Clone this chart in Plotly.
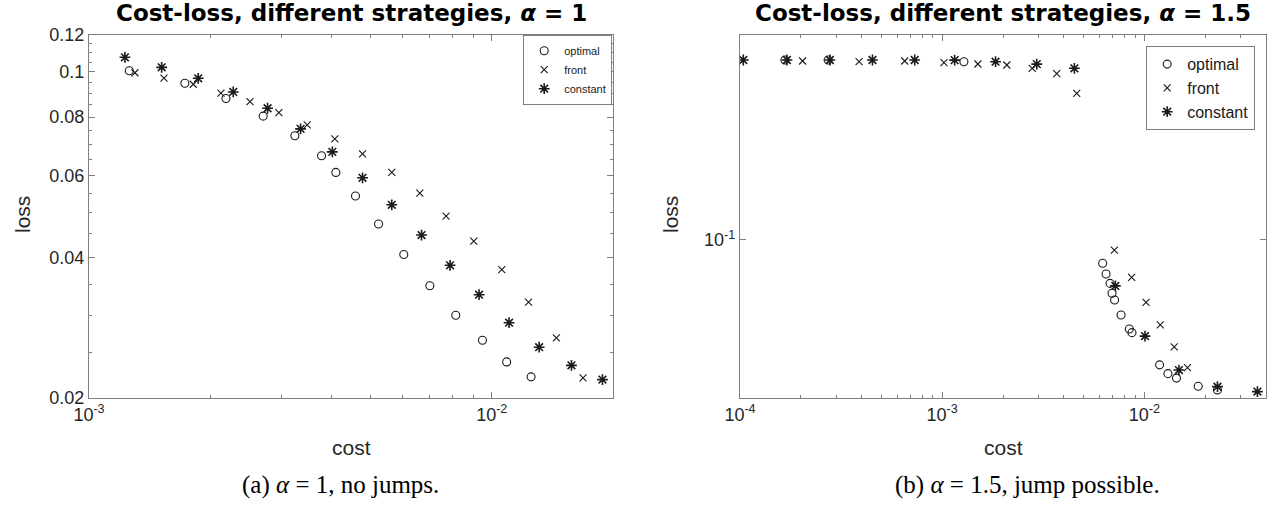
import plotly.graph_objects as go

# ---------------- data: panel (a), alpha = 1 ----------------
a_opt_cost = [1.259e-3, 1.730e-3, 2.188e-3, 2.707e-3, 3.245e-3, 3.779e-3, 4.101e-3, 4.589e-3,
              5.235e-3, 6.047e-3, 7.019e-3, 8.141e-3, 9.482e-3, 1.089e-2, 1.252e-2]
a_opt_loss = [0.1006, 0.0946, 0.0877, 0.0804, 0.0730, 0.0661, 0.0609, 0.0542,
              0.0472, 0.0406, 0.0348, 0.0301, 0.0266, 0.0239, 0.0222]
a_front_cost = [1.300e-3, 1.535e-3, 1.815e-3, 2.126e-3, 2.510e-3, 2.961e-3, 3.481e-3, 4.077e-3, 4.777e-3,
                5.646e-3, 6.627e-3, 7.700e-3, 9.021e-3, 1.059e-2, 1.234e-2, 1.447e-2, 1.685e-2]
a_front_loss = [0.0996, 0.0970, 0.0941, 0.0901, 0.0864, 0.0818, 0.0770, 0.0719, 0.0667,
                0.0609, 0.0550, 0.0491, 0.0434, 0.0377, 0.0321, 0.0269, 0.0221]
a_const_cost = [1.228e-3, 1.515e-3, 1.867e-3, 2.281e-3, 2.776e-3, 3.352e-3, 4.019e-3, 4.777e-3,
                5.646e-3, 6.693e-3, 7.878e-3, 9.300e-3, 1.104e-2, 1.311e-2, 1.577e-2, 1.883e-2]
a_const_loss = [0.1075, 0.1023, 0.0969, 0.0906, 0.0836, 0.0755, 0.0674, 0.0593,
                0.0519, 0.0447, 0.0385, 0.0333, 0.0290, 0.0257, 0.0235, 0.0219]

# ---------------- data: panel (b), alpha = 1.5 ----------------
b_opt_cost = [1.668e-4, 2.729e-4, 1.281e-3, 6.223e-3, 6.469e-3, 6.769e-3, 6.925e-3, 7.13e-3,
              7.673e-3, 8.431e-3, 8.69e-3, 1.190e-2, 1.309e-2, 1.443e-2, 1.848e-2, 2.301e-2]
b_opt_loss = [0.4109, 0.4109, 0.4054, 0.0833, 0.0765, 0.0711, 0.0658, 0.0624,
              0.0555, 0.0497, 0.0483, 0.0375, 0.0350, 0.0338, 0.0317, 0.0308]
b_front_cost = [2.040e-4, 3.882e-4, 6.528e-4, 1.021e-3, 1.502e-3, 2.089e-3, 2.789e-3, 3.688e-3,
                4.630e-3, 7.109e-3, 8.656e-3, 1.020e-2, 1.199e-2, 1.406e-2, 1.636e-2]
b_front_loss = [0.4077, 0.4054, 0.4077, 0.4023, 0.3982, 0.3951, 0.3850, 0.3690,
                0.3164, 0.0924, 0.0746, 0.0613, 0.0513, 0.0432, 0.0367]
b_const_cost = [1.038e-4, 1.706e-4, 2.783e-4, 4.521e-4, 7.314e-4, 1.153e-3, 1.837e-3, 2.938e-3,
                4.510e-3, 7.190e-3, 1.008e-2, 1.483e-2, 2.301e-2, 3.627e-2]
b_const_loss = [0.4109, 0.4109, 0.4109, 0.4109, 0.4109, 0.4105, 0.4054, 0.3978,
                0.3850, 0.0697, 0.0470, 0.0360, 0.0316, 0.0304]

series_names = ["optimal", "front", "constant"]

# tick labels
a_xticks = [1e-3, 1e-2]
a_xticktext = ["10<sup>-3</sup>", "10<sup>-2</sup>"]
a_yticks = [0.02, 0.04, 0.06, 0.08, 0.1, 0.12]
a_yticktext = ["0.02", "0.04", "0.06", "0.08", "0.1", "0.12"]
b_xticks = [1e-4, 1e-3, 1e-2]
b_xticktext = ["10<sup>-4</sup>", "10<sup>-3</sup>", "10<sup>-2</sup>"]
b_yticks = [0.1]
b_yticktext = ["10<sup>-1</sup>"]

titles = ["Cost-loss, different strategies, <i>α</i> = 1",
          "Cost-loss, different strategies, <i>α</i> = 1.5"]
captions = ["(a) <i>α</i> = 1, no jumps.", "(b) <i>α</i> = 1.5, jump possible."]
x_title = "cost"
y_title = "loss"

# ---------------- figure ----------------
W, H = 1272, 506
def px(x):
    return x / W
def py(y):
    return 1 - y / H

INK = "#1a1a1a"
AX = "#7f7f7f"
SANS = "Liberation Sans, Arial, sans-serif"
SERIF = "Liberation Serif, DejaVu Serif, serif"

marker_styles = {
    "optimal": dict(symbol="circle-open", size=8, line=dict(width=1.1, color=INK), color=INK),
    "front": dict(symbol="x-thin-open", size=7, line=dict(width=1.1, color=INK), color=INK),
    "constant": dict(symbol="asterisk-open", size=9, line=dict(width=1.6, color=INK), color=INK),
}

fig = go.Figure()
panels = [
    ("x", "y", "legend", [a_opt_cost, a_front_cost, a_const_cost], [a_opt_loss, a_front_loss, a_const_loss]),
    ("x2", "y2", "legend2", [b_opt_cost, b_front_cost, b_const_cost], [b_opt_loss, b_front_loss, b_const_loss]),
]
for xa, ya, lg, xs, ys in panels:
    for name, cx, ly in zip(series_names, xs, ys):
        fig.add_trace(go.Scatter(x=cx, y=ly, mode="markers", name=name, xaxis=xa, yaxis=ya,
                                 legend=lg, marker=marker_styles[name]))

def minor_log(lo_exp, hi_exp):
    return [k * 10.0 ** e for e in range(lo_exp, hi_exp) for k in range(2, 10)]

y_dom = [py(398), py(35)]
common = dict(type="log", showline=True, linecolor=AX, linewidth=1.2, mirror="ticks",
              ticks="inside", ticklen=6, tickcolor=AX, tickwidth=1, showgrid=False, zeroline=False,
              automargin=False,
              tickfont=dict(family=SANS, size=18, color="#262626"))
axis_title_font = dict(family=SANS, size=21, color="#262626")

fig.update_layout(
    width=W, height=H, margin=dict(l=0, r=0, t=0, b=0, autoexpand=False),
    paper_bgcolor="white", plot_bgcolor="white",
    xaxis=dict(domain=[px(89), px(613)], range=[-3, -1.699], tickmode="array",
               tickvals=a_xticks, ticktext=a_xticktext, anchor="y",
               minor=dict(tickmode="array", tickvals=minor_log(-3, -1), ticks="inside", ticklen=3,
                          tickcolor=AX, showgrid=False),
               **common),
    yaxis=dict(domain=y_dom, range=[-1.69897, -0.920819], tickmode="array",
               tickvals=a_yticks, ticktext=a_yticktext, anchor="x",
               minor=dict(tickmode="array", tickvals=[0.025, 0.03, 0.035, 0.045, 0.05, 0.055, 0.065,
                                                       0.07, 0.075, 0.085, 0.09, 0.095, 0.105, 0.11, 0.115],
                          ticks="inside", ticklen=3, tickcolor=AX, showgrid=False),
               **common),
    xaxis2=dict(domain=[px(740), px(1266)], range=[-4, -1.398], tickmode="array",
                tickvals=b_xticks, ticktext=b_xticktext, anchor="y2",
                minor=dict(tickmode="array", tickvals=minor_log(-4, -1), ticks="inside", ticklen=3,
                           tickcolor=AX, showgrid=False),
                **common),
    yaxis2=dict(domain=y_dom, range=[-1.539, -0.301], tickmode="array",
                tickvals=b_yticks, ticktext=b_yticktext, anchor="x2",
                **common),
    legend=dict(x=px(612), y=py(35), xanchor="right", yanchor="top",
                bgcolor="white", bordercolor=AX, borderwidth=1.2,
                font=dict(family=SANS, size=11, color=INK), tracegroupgap=0, itemwidth=30),
    legend2=dict(x=px(1255), y=py(46), xanchor="right", yanchor="top",
                 bgcolor="white", bordercolor=AX, borderwidth=1.2,
                 font=dict(family=SANS, size=16, color=INK), tracegroupgap=0, itemwidth=30),
    showlegend=True,
)

for t, cx in zip(titles, [351, 1003]):
    fig.add_annotation(text="<b>" + t + "</b>", x=px(cx), y=py(13), xref="paper", yref="paper",
                       showarrow=False, xanchor="center", yanchor="middle",
                       font=dict(family="DejaVu Sans, sans-serif", size=23, color="black"))
for c, cx in zip(captions, [340, 1027]):
    fig.add_annotation(text=c, x=px(cx), y=py(485), xref="paper", yref="paper",
                       showarrow=False, xanchor="center", yanchor="middle",
                       font=dict(family=SERIF, size=25, color="black"))
# axis titles
for cx in [351, 1003]:
    fig.add_annotation(text=x_title, x=px(cx), y=py(447), xref="paper", yref="paper",
                       showarrow=False, xanchor="center", yanchor="middle", font=axis_title_font)
for cx in [22, 670]:
    fig.add_annotation(text=y_title, x=px(cx), y=py(215), xref="paper", yref="paper", textangle=-90,
                       showarrow=False, xanchor="center", yanchor="middle", font=axis_title_font)

fig.write_html("out.html", config={"displayModeBar": False},
               post_script="document.body.style.margin='0px';")
